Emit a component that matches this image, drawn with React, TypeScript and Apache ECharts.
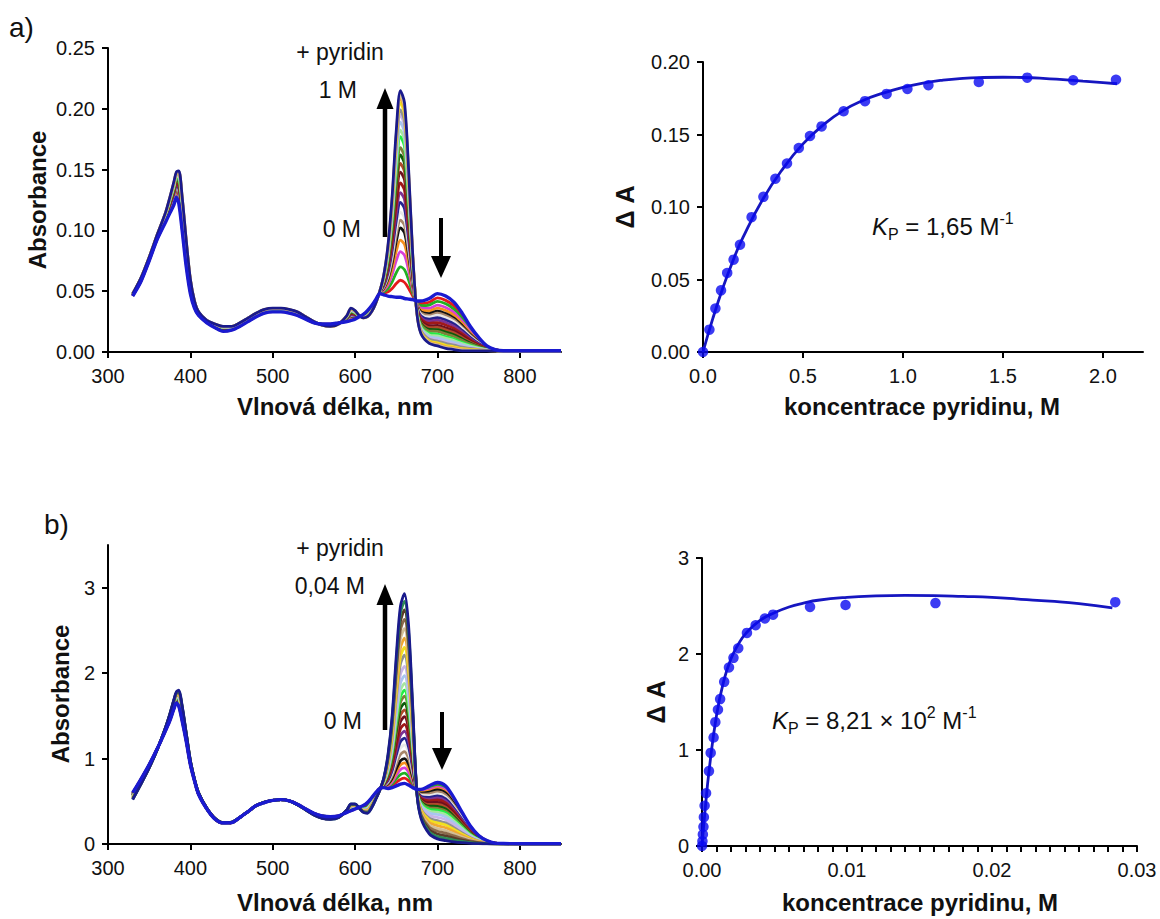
import React, { useEffect, useRef } from "react";
import * as echarts from "echarts";

// ---------- Spectra (shared wavelength grid, nm) ----------
const WL = [330, 340, 350, 360, 370, 375, 380, 383, 386, 390, 395, 400, 405, 410, 420, 430, 440, 450, 460, 470, 480, 490, 500, 510, 520, 530, 540, 550, 560, 570, 580, 590, 595, 600, 605, 610, 615, 620, 625, 630, 635, 640, 645, 650, 655, 660, 665, 670, 675, 680, 690, 700, 710, 720, 730, 740, 750, 760, 770, 780, 800, 820, 850];

// a) 0 M spectrum (blue) and 1 M spectrum
const A_START = [0.046, 0.058, 0.075, 0.093, 0.107, 0.114, 0.121, 0.127, 0.122, 0.1, 0.07, 0.048, 0.036, 0.03, 0.024, 0.02, 0.017, 0.018, 0.021, 0.025, 0.029, 0.032, 0.033, 0.033, 0.032, 0.03, 0.027, 0.024, 0.023, 0.023, 0.024, 0.025, 0.026, 0.027, 0.029, 0.031, 0.034, 0.038, 0.043, 0.048, 0.047, 0.046, 0.0455, 0.045, 0.045, 0.044, 0.0435, 0.043, 0.042, 0.042, 0.044, 0.048, 0.046, 0.041, 0.032, 0.021, 0.012, 0.005, 0.002, 0.001, 0.001, 0.001, 0.001];
const A_END = [0.048, 0.061, 0.078, 0.097, 0.115, 0.127, 0.14, 0.148, 0.149, 0.128, 0.092, 0.06, 0.042, 0.033, 0.026, 0.023, 0.021, 0.021, 0.024, 0.028, 0.032, 0.035, 0.036, 0.036, 0.035, 0.033, 0.029, 0.025, 0.022, 0.021, 0.023, 0.03, 0.036, 0.034, 0.03, 0.028, 0.029, 0.033, 0.04, 0.05, 0.064, 0.088, 0.128, 0.182, 0.215, 0.205, 0.15, 0.08, 0.032, 0.015, 0.007, 0.005, 0.003, 0.002, 0.001, 0.001, 0.001, 0.001, 0.001, 0.001, 0.001, 0.001, 0.001];
// absorbance at 655 nm of each titration step
const A_PEAKS = [0.059, 0.07, 0.0825, 0.092, 0.102, 0.1085, 0.115, 0.123, 0.131, 0.139, 0.148, 0.155, 0.162, 0.168, 0.177, 0.1825, 0.189, 0.195, 0.199, 0.205, 0.209, 0.2115, 0.215];

// b) 0 M spectrum (blue) and 0,04 M spectrum
const B_START = [0.6, 0.76, 0.93, 1.12, 1.33, 1.44, 1.58, 1.65, 1.61, 1.44, 1.2, 0.93, 0.74, 0.58, 0.41, 0.29, 0.245, 0.25, 0.31, 0.38, 0.45, 0.485, 0.51, 0.52, 0.505, 0.465, 0.41, 0.36, 0.33, 0.32, 0.33, 0.37, 0.39, 0.41, 0.43, 0.45, 0.485, 0.54, 0.6, 0.65, 0.66, 0.65, 0.66, 0.68, 0.7, 0.71, 0.69, 0.66, 0.64, 0.64, 0.68, 0.72, 0.68, 0.54, 0.37, 0.21, 0.1, 0.04, 0.01, 0.005, 0.003, 0.003, 0.003];
const B_END = [0.52, 0.7, 0.89, 1.11, 1.37, 1.52, 1.69, 1.78, 1.8, 1.62, 1.3, 0.98, 0.76, 0.6, 0.42, 0.3, 0.25, 0.255, 0.31, 0.38, 0.45, 0.49, 0.51, 0.52, 0.505, 0.46, 0.4, 0.34, 0.3, 0.29, 0.31, 0.4, 0.47, 0.47, 0.42, 0.37, 0.36, 0.42, 0.52, 0.63, 0.78, 1.05, 1.5, 2.2, 2.78, 2.93, 2.55, 1.6, 0.6, 0.3, 0.12, 0.06, 0.04, 0.025, 0.015, 0.008, 0.004, 0.002, 0.001, 0.001, 0.001, 0.001, 0.001];
// absorbance at 660 nm of each titration step
const B_PEAKS = [0.77, 0.83, 0.89, 0.95, 1.0, 1.08, 1.16, 1.24, 1.32, 1.4, 1.49, 1.57, 1.65, 1.73, 1.8, 1.88, 1.97, 2.08, 2.21, 2.3, 2.41, 2.52, 2.63, 2.74, 2.84, 2.93];

const STEP_COLORS = ["#e31a1c", "#22b022", "#d73fd7", "#f5901f", "#111111", "#a8876a", "#e8e8e8", "#23238f", "#7b3294", "#a01818", "#6e0f1f", "#b04a2a", "#0a5c0a", "#7f7f3a", "#22ee44", "#a6e6a0", "#a8c6f0", "#c8b4e8", "#909090", "#f2e01e", "#f0a830", "#d2be96", "#8b6b4a", "#5a3c28", "#2e8b57", "#1a1a8c"];

// ---------- Binding isotherms ----------
const A_CONC = [0, 0.032, 0.062, 0.09, 0.121, 0.153, 0.185, 0.243, 0.302, 0.362, 0.42, 0.479, 0.535, 0.593, 0.703, 0.81, 0.918, 1.022, 1.127, 1.379, 1.621, 1.851, 2.065];
const A_DA = [0, 0.0154, 0.03, 0.0425, 0.0545, 0.0637, 0.074, 0.093, 0.107, 0.1195, 0.13, 0.1407, 0.149, 0.1556, 0.166, 0.173, 0.178, 0.1814, 0.184, 0.1862, 0.1892, 0.1874, 0.1878];
const A_FIT_X = [0, 0.05, 0.1, 0.15, 0.2, 0.3, 0.4, 0.5, 0.6, 0.7, 0.8, 0.9, 1.0, 1.1, 1.2, 1.3, 1.4, 1.5, 1.6, 1.7, 1.8, 1.9, 2.0, 2.07];
const A_FIT_Y = [0, 0.0235, 0.0445, 0.063, 0.079, 0.1055, 0.1265, 0.1435, 0.1565, 0.1665, 0.1735, 0.1785, 0.1825, 0.1855, 0.1875, 0.1887, 0.1893, 0.1895, 0.1893, 0.1887, 0.1878, 0.1868, 0.1858, 0.185];

const B_CONC = [0, 0.00003, 0.00006, 0.0001, 0.00013, 0.00018, 0.00028, 0.00048, 0.0006, 0.0008, 0.00092, 0.0011, 0.00125, 0.00153, 0.00186, 0.00217, 0.0025, 0.0031, 0.0037, 0.00434, 0.0049, 0.00745, 0.0099, 0.0161, 0.0285];
const B_DA = [0, 0.05, 0.12, 0.2, 0.3, 0.42, 0.55, 0.78, 0.97, 1.13, 1.29, 1.42, 1.53, 1.71, 1.86, 1.96, 2.06, 2.22, 2.3, 2.37, 2.41, 2.49, 2.51, 2.53, 2.54];
const B_FIT_X = [0, 0.0002, 0.0005, 0.001, 0.0015, 0.002, 0.0025, 0.003, 0.004, 0.005, 0.006, 0.007, 0.008, 0.01, 0.012, 0.014, 0.016, 0.018, 0.02, 0.022, 0.024, 0.026, 0.0283];
const B_FIT_Y = [0, 0.35, 0.8, 1.36, 1.72, 1.95, 2.1, 2.21, 2.35, 2.43, 2.49, 2.53, 2.56, 2.59, 2.605, 2.61, 2.608, 2.6, 2.59, 2.57, 2.55, 2.525, 2.48];

const WL_TICKS = [300, 400, 500, 600, 700, 800];
const A_CONC_TICKS = [0, 0.5, 1.0, 1.5, 2.0];
const B_ABS_TICKS = [0, 1, 2, 3];

const FONT = "'Liberation Sans', Arial, Helvetica, sans-serif";
const BLUE_DOT = "#0a0af0";
const BLUE_LINE = "#1616c0";
const BASE_BLUE = "#1a1ad0";

function spectraSeries(start: number[], end: number[], peaks: number[], refWl: number, axis: number) {
  const ri = WL.indexOf(refWl);
  const out: any[] = [];
  peaks.forEach((p, k) => {
    const f = (p - start[ri]) / (end[ri] - start[ri]);
    const color = k === peaks.length - 1 ? "#1a1a8c" : STEP_COLORS[k % STEP_COLORS.length];
    out.push({
      type: "line",
      xAxisIndex: axis,
      yAxisIndex: axis,
      data: WL.map((w, i) => [w, start[i] + f * (end[i] - start[i])]),
      showSymbol: false,
      symbol: "none",
      smooth: 0.3,
      silent: true,
      lineStyle: { width: 2.8, color },
      z: 2,
    });
  });
  out.push({
    type: "line",
    xAxisIndex: axis,
    yAxisIndex: axis,
    data: WL.map((w, i) => [w, start[i]]),
    showSymbol: false,
    symbol: "none",
    smooth: 0.3,
    silent: true,
    lineStyle: { width: 3.4, color: BASE_BLUE },
    z: 3,
  });
  return out;
}

const axisLine = { show: true, lineStyle: { color: "#000", width: 2 } };
const axisTick = { show: true, length: 6, lineStyle: { color: "#000", width: 2 } };
const labelBase = { color: "#111", fontSize: 20, fontFamily: FONT };

function txt(x: number, y: number, text: string, size: number, opts: any = {}) {
  return {
    type: "text",
    x,
    y,
    rotation: opts.rotation || 0,
    z: 100,
    style: {
      text,
      fill: "#111",
      fontSize: size,
      fontFamily: FONT,
      fontWeight: opts.bold ? "bold" : "normal",
      align: opts.align || "center",
      textAlign: opts.align || "center",
      verticalAlign: "middle",
      textVerticalAlign: "middle",
      rich: opts.rich,
    },
  };
}

function upArrow(x: number, yTip: number, yBottom: number) {
  return [
    { type: "line", z: 100, shape: { x1: x, y1: yBottom, x2: x, y2: yTip + 18 }, style: { stroke: "#000", lineWidth: 4.5 } },
    { type: "polygon", z: 100, shape: { points: [[x - 8.5, yTip + 21], [x + 8.5, yTip + 21], [x, yTip]] }, style: { fill: "#000" } },
  ];
}
function downArrow(x: number, yTop: number, yTip: number) {
  return [
    { type: "line", z: 100, shape: { x1: x, y1: yTop, x2: x, y2: yTip - 18 }, style: { stroke: "#000", lineWidth: 4 } },
    { type: "polygon", z: 100, shape: { points: [[x - 10, yTip - 22], [x + 10, yTip - 22], [x, yTip]] }, style: { fill: "#000" } },
  ];
}

const kRich = {
  i: { fontSize: 24, fontStyle: "italic", fontFamily: FONT, fill: "#111", lineHeight: 32, verticalAlign: "middle" },
  s: { fontSize: 16, fontFamily: FONT, fill: "#111", lineHeight: 14, verticalAlign: "bottom" },
  n: { fontSize: 24, fontFamily: FONT, fill: "#111", lineHeight: 32, verticalAlign: "middle" },
  p: { fontSize: 16, fontFamily: FONT, fill: "#111", lineHeight: 16, verticalAlign: "top" },
};

export default function App() {
  const ref = useRef<HTMLDivElement>(null);
  useEffect(() => {
    if (!ref.current) return;
    const chart = echarts.init(ref.current, undefined, { renderer: "svg" });
    const option: any = {
      animation: false,
      backgroundColor: "#ffffff",
      grid: [
        { left: 108, top: 48, width: 453, height: 304 },
        { left: 703, top: 62, width: 440, height: 290 },
        { left: 108, top: 545, width: 453, height: 299 },
        { left: 702, top: 558, width: 435, height: 288 },
      ],
      xAxis: [
        {
          gridIndex: 0, type: "value", min: 300, max: 850,
          axisLine, axisTick: { ...axisTick, customValues: WL_TICKS },
          axisLabel: { ...labelBase, margin: 14, customValues: WL_TICKS },
          splitLine: { show: false },
        },
        {
          gridIndex: 1, type: "value", min: 0, max: 2.2,
          axisLine, axisTick: { ...axisTick, customValues: A_CONC_TICKS },
          axisLabel: { ...labelBase, margin: 14, customValues: A_CONC_TICKS, formatter: (v: number) => v.toFixed(1) },
          splitLine: { show: false },
        },
        {
          gridIndex: 2, type: "value", min: 300, max: 850,
          axisLine, axisTick: { ...axisTick, customValues: WL_TICKS },
          axisLabel: { ...labelBase, margin: 14, customValues: WL_TICKS },
          splitLine: { show: false },
        },
        {
          gridIndex: 3, type: "value", min: 0, max: 0.03, interval: 0.01,
          axisLine, axisTick,
          minorTick: { show: true, splitNumber: 10, length: 6, lineStyle: { color: "#000", width: 2 } },
          axisLabel: { ...labelBase, margin: 14, formatter: (v: number) => v.toFixed(2) },
          splitLine: { show: false }, minorSplitLine: { show: false },
        },
      ],
      yAxis: [
        {
          gridIndex: 0, type: "value", min: 0, max: 0.25, interval: 0.05,
          axisLine, axisTick,
          axisLabel: { ...labelBase, margin: 13, formatter: (v: number) => v.toFixed(2) },
          splitLine: { show: false },
        },
        {
          gridIndex: 1, type: "value", min: 0, max: 0.2, interval: 0.05,
          axisLine, axisTick,
          axisLabel: { ...labelBase, margin: 13, formatter: (v: number) => v.toFixed(2) },
          splitLine: { show: false },
        },
        {
          gridIndex: 2, type: "value", min: 0, max: 3.5,
          axisLine, axisTick: { ...axisTick, customValues: B_ABS_TICKS },
          axisLabel: { ...labelBase, margin: 13, customValues: B_ABS_TICKS },
          splitLine: { show: false },
        },
        {
          gridIndex: 3, type: "value", min: 0, max: 3, interval: 1,
          axisLine, axisTick,
          axisLabel: { ...labelBase, margin: 13 },
          splitLine: { show: false },
        },
      ],
      series: [
        ...spectraSeries(A_START, A_END, A_PEAKS, 655, 0),
        ...spectraSeries(B_START, B_END, B_PEAKS, 660, 2),
        {
          type: "line", xAxisIndex: 1, yAxisIndex: 1,
          data: A_FIT_X.map((x, i) => [x, A_FIT_Y[i]]),
          showSymbol: false, symbol: "none", smooth: true, silent: true,
          lineStyle: { color: BLUE_LINE, width: 2.8 }, z: 3,
        },
        {
          type: "scatter", xAxisIndex: 1, yAxisIndex: 1, clip: false,
          data: A_CONC.map((x, i) => [x, A_DA[i]]),
          symbol: "circle", symbolSize: 10.5, itemStyle: { color: BLUE_DOT }, silent: true, z: 4,
        },
        {
          type: "line", xAxisIndex: 3, yAxisIndex: 3,
          data: B_FIT_X.map((x, i) => [x, B_FIT_Y[i]]),
          showSymbol: false, symbol: "none", smooth: true, silent: true,
          lineStyle: { color: BLUE_LINE, width: 2.8 }, z: 3,
        },
        {
          type: "scatter", xAxisIndex: 3, yAxisIndex: 3, clip: false,
          data: B_CONC.map((x, i) => [x, B_DA[i]]),
          symbol: "circle", symbolSize: 10.5, itemStyle: { color: BLUE_DOT }, silent: true, z: 4,
        },
      ],
      graphic: [
        txt(9, 27, "a)", 28, { align: "left" }),
        txt(44, 524, "b)", 28, { align: "left" }),
        // axis titles
        txt(37, 200, "Absorbance", 24, { bold: true, rotation: Math.PI / 2 }),
        txt(60, 694, "Absorbance", 24, { bold: true, rotation: Math.PI / 2 }),
        txt(625, 207, "Δ A", 25, { bold: true, rotation: Math.PI / 2 }),
        txt(656, 702, "Δ A", 25, { bold: true, rotation: Math.PI / 2 }),
        txt(335, 406, "Vlnová délka, nm", 24, { bold: true }),
        txt(335, 902, "Vlnová délka, nm", 24, { bold: true }),
        txt(922, 406, "koncentrace pyridinu, M", 24, { bold: true }),
        txt(920, 902, "koncentrace pyridinu, M", 24, { bold: true }),
        // annotations a)
        txt(340, 52, "+ pyridin", 23),
        txt(357, 90, "1 M", 23, { align: "right" }),
        txt(361, 229, "0 M", 23, { align: "right" }),
        ...upArrow(385, 88, 237),
        ...downArrow(441, 218, 278),
        txt(872, 226, "{i|K}{s|P}{n| = 1,65 M}{p|-1}", 24, { align: "left", rich: kRich }),
        // annotations b)
        txt(340, 548, "+ pyridin", 23),
        txt(365, 586, "0,04 M", 23, { align: "right" }),
        txt(362, 721, "0 M", 23, { align: "right" }),
        ...upArrow(385, 584, 730),
        ...downArrow(442, 712, 770),
        txt(772, 720, "{i|K}{s|P}{n| = 8,21 × 10}{p|2}{n| M}{p|-1}", 24, { align: "left", rich: kRich }),
      ],
    };
    chart.setOption(option);
    return () => chart.dispose();
  }, []);
  return (
    <div
      ref={ref}
      style={{ position: "absolute", left: 0, top: 0, width: 1160, height: 919, background: "#fff" }}
    />
  );
}
